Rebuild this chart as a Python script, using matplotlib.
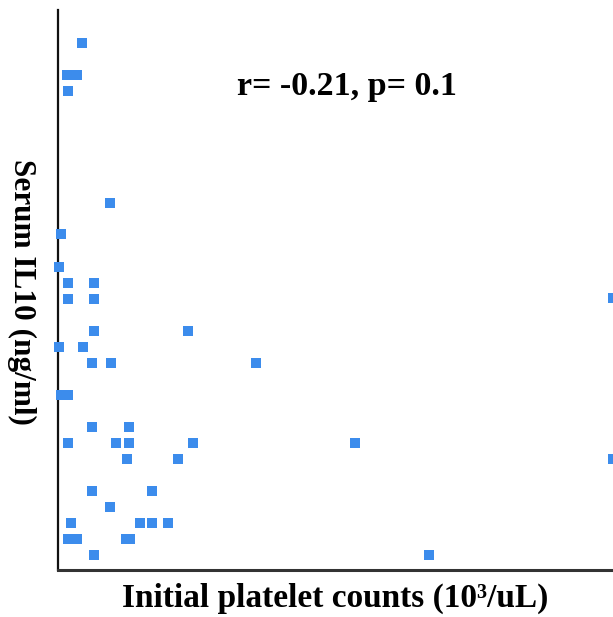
import matplotlib
matplotlib.use("Agg")
import matplotlib.pyplot as plt

# Initial platelet counts (10^3/uL)
platelets = [32, 17, 22, 27, 18, 60, 11, 9, 18, 44, 18, 44, 563, 44, 138, 9, 33,
             42, 61, 206, 11, 18, 42, 79, 18, 66, 79, 143, 305, 77, 128, 563,
             42, 102, 60, 21, 90, 102, 118, 18, 27, 76, 80, 44, 379]
# Serum IL10 (ng/ml)
il10 = [52.7, 49.5, 49.5, 49.5, 47.9, 36.7, 33.6, 30.3, 28.7, 28.7, 27.1, 27.1, 27.2,
        23.9, 23.9, 22.3, 22.3, 20.7, 20.7, 20.7, 17.5, 17.5, 14.3, 14.3,
        12.7, 12.7, 12.7, 12.7, 12.7, 11.1, 11.1, 11.1, 7.9, 7.9, 6.3,
        4.7, 4.7, 4.7, 4.7, 3.1, 3.1, 3.1, 3.1, 1.5, 1.5]

annotation = "r= -0.21, p= 0.1"
xlabel = "Initial platelet counts (10³/uL)"
ylabel = "Serum IL10 (ng/ml)"

W, H = 613, 617
fig = plt.figure(figsize=(W / 100, H / 100), dpi=100)
ax = fig.add_axes([58 / W, (H - 570) / H, 1 - 58 / W, 560 / H])
ax.plot(platelets, il10, linestyle="none", marker="s", markersize=7.8,
        color="#3C8CEC", markeredgewidth=0, clip_on=False, zorder=5)
ax.set_xlim(8, 563)
ax.set_ylim(0, 56)
ax.set_xticks([])
ax.set_yticks([])
for s in ["top", "right"]:
    ax.spines[s].set_visible(False)
ax.spines["left"].set_linewidth(1.6)
ax.spines["bottom"].set_linewidth(2.2)
ax.spines["left"].set_color("#111111")
ax.spines["bottom"].set_color("#333333")

serif = ["Liberation Serif", "DejaVu Serif"]
fig.text(347 / W, 1 - 86 / H, annotation, ha="center", va="center",
         family=serif, weight="bold", fontsize=24.5)
fig.text(335 / W, 1 - 598 / H, xlabel, ha="center", va="center",
         family=serif, weight="bold", fontsize=24)
fig.text(22 / W, 1 - 292 / H, ylabel, ha="center", va="center", rotation=-90,
         family=serif, weight="bold", fontsize=22.5)

fig.savefig("out.png", dpi=100, facecolor="white")
